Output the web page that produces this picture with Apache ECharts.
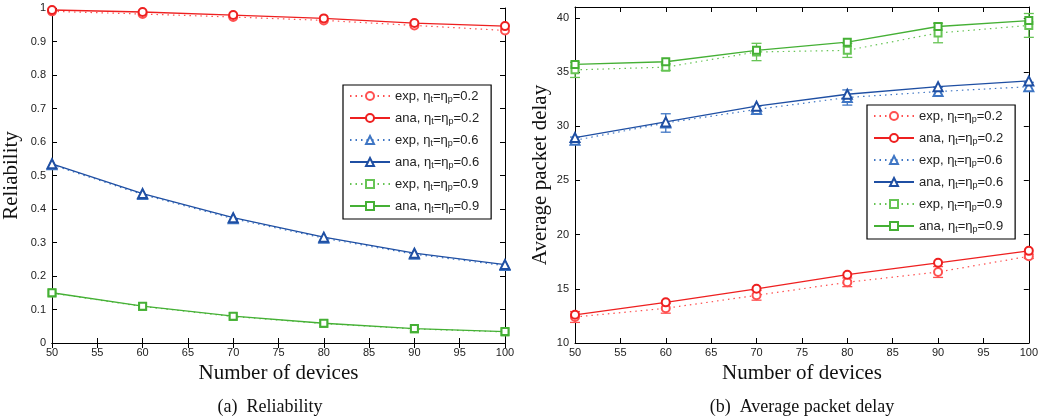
<!DOCTYPE html>
<html><head><meta charset="utf-8">
<script src="https://cdn.jsdelivr.net/npm/echarts@6/dist/echarts.min.js"></script>
<style>html,body{margin:0;padding:0;background:#fff}#c{width:1041px;height:419px}</style>
</head><body><div id="c"></div>
<script>
const devices = [50, 60, 70, 80, 90, 100];
const xTicks = [50, 55, 60, 65, 70, 75, 80, 85, 90, 95, 100];
const etaValues = ['0.2', '0.6', '0.9'];

const relAna02 = [0.994, 0.988, 0.979, 0.969, 0.955, 0.946];
const relExp02 = [0.990, 0.982, 0.973, 0.963, 0.948, 0.933];
const relAna06 = [0.535, 0.446, 0.374, 0.316, 0.268, 0.234];
const relExp06 = [0.532, 0.443, 0.371, 0.313, 0.265, 0.231];
const relAna09 = [0.150, 0.110, 0.080, 0.059, 0.043, 0.034];
const relExp09 = [0.149, 0.109, 0.079, 0.058, 0.042, 0.033];

const delayAna02 = [12.6, 13.75, 15.0, 16.3, 17.4, 18.5];
const delayExp02 = [12.4, 13.2, 14.4, 15.6, 16.55, 18.0];
const delayErr02 = [0.5, 0.45, 0.45, 0.4, 0.5, 0.2];
const delayAna06 = [28.95, 30.4, 31.85, 32.95, 33.65, 34.18];
const delayExp06 = [28.7, 30.3, 31.55, 32.65, 33.2, 33.65];
const delayErr06 = [0.3, 0.85, 0.3, 0.7, 0.4, 0.4];
const delayAna09 = [35.7, 35.95, 37.0, 37.75, 39.2, 39.75];
const delayExp09 = [35.2, 35.45, 36.85, 37.0, 38.6, 39.3];
const delayErr09 = [0.7, 0.3, 0.8, 0.65, 0.9, 1.1];

const style = {
  '0.2': {ana: '#ee2020', exp: '#ff5050', symbol: 'emptyCircle', size: 8},
  '0.6': {ana: '#1f4fa3', exp: '#3f76c4', symbol: 'emptyTriangle', size: 9},
  '0.9': {ana: '#45b035', exp: '#66c454', symbol: 'emptyRect', size: 7}
};

const pair = (ys) => devices.map((x, i) => [x, ys[i]]);
const sans = 'Liberation Sans, Arial, sans-serif';
const serif = 'Liberation Serif, Times New Roman, serif';

function lineSeries(kind, eta, ys, xi, yi) {
  const s = style[eta];
  return {
    name: kind + '|' + eta, type: 'line', xAxisIndex: xi, yAxisIndex: yi,
    data: pair(ys), symbol: s.symbol, symbolSize: s.size,
    lineStyle: {color: kind === 'ana' ? s.ana : s.exp, width: kind === 'ana' ? 1.3 : 1.2, type: kind === 'ana' ? 'solid' : [1.5, 4]},
    itemStyle: {color: kind === 'ana' ? s.ana : s.exp, borderWidth: 1.2},
    z: kind === 'ana' ? 3 : 2, animation: false
  };
}
function errSeries(eta, ys, errs, xi, yi) {
  const s = style[eta];
  return {
    type: 'custom', xAxisIndex: xi, yAxisIndex: yi, animation: false, silent: true, z: 2,
    data: devices.map((x, i) => [x, ys[i] - errs[i], ys[i] + errs[i]]),
    renderItem: function (params, api) {
      const lo = api.coord([api.value(0), api.value(1)]);
      const hi = api.coord([api.value(0), api.value(2)]);
      const w = 5;
      const st = {stroke: s.exp, lineWidth: 1.3};
      return {type: 'group', children: [
        {type: 'line', shape: {x1: lo[0], y1: lo[1], x2: hi[0], y2: hi[1]}, style: st},
        {type: 'line', shape: {x1: lo[0] - w, y1: lo[1], x2: lo[0] + w, y2: lo[1]}, style: st},
        {type: 'line', shape: {x1: hi[0] - w, y1: hi[1], x2: hi[0] + w, y2: hi[1]}, style: st}
      ]};
    }
  };
}

const axisLine = {show: true, lineStyle: {color: '#000', width: 1}};
const tickIn = {show: true, inside: true, length: 5, lineStyle: {color: '#000'}};
const lbl = {fontFamily: sans, fontSize: 11, color: '#222'};

function xAx(gi, bottom) {
  return {type: 'value', gridIndex: gi, min: 50, max: 100, interval: 5,
    position: bottom ? 'bottom' : 'top', axisLine, axisTick: tickIn, splitLine: {show: false},
    axisLabel: bottom ? Object.assign({margin: 4}, lbl) : {show: false},
    name: bottom ? 'Number of devices' : '', nameLocation: 'middle', nameGap: 20,
    nameTextStyle: {fontFamily: serif, fontSize: 21, color: '#111'}};
}
function yAx(gi, left, min, max, interval, fmt, name, gap) {
  return {type: 'value', gridIndex: gi, min, max, interval,
    position: left ? 'left' : 'right', axisLine, axisTick: tickIn, splitLine: {show: false},
    axisLabel: left ? Object.assign({margin: 6, formatter: fmt}, lbl) : {show: false},
    name: left ? name : '', nameLocation: 'middle', nameGap: gap || 0,
    nameTextStyle: {fontFamily: serif, fontSize: 21, color: '#111'}};
}

const legendNames = [];
etaValues.forEach(e => { legendNames.push('exp|' + e); legendNames.push('ana|' + e); });
function legend(left, top) {
  return {
    left, top, orient: 'vertical', data: legendNames, z: 20,
    backgroundColor: '#fff', borderColor: '#000', borderWidth: 1.2,
    padding: [3, 12, 5, 6], itemWidth: 40, itemHeight: 10, itemGap: 6,
    selectedMode: false,
    itemStyle: {borderWidth: 1.2},
    formatter: (n) => { const [k, v] = n.split('|'); return k + ', η{s|t}=η{s|p}=' + v; },
    textStyle: {fontFamily: sans, fontSize: 13, color: '#222', lineHeight: 16,
      rich: {s: {fontFamily: sans, fontSize: 9, color: '#222', lineHeight: 8, verticalAlign: 'bottom'}}}
  };
}

const option = {
  backgroundColor: '#fff',
  animation: false,
  grid: [
    {left: 51, top: 8, width: 454, height: 335},
    {left: 575, top: 7, width: 455, height: 336}
  ],
  xAxis: [xAx(0, true), xAx(0, false), xAx(1, true), xAx(1, false)],
  yAxis: [
    yAx(0, true, 0, 1, 0.1, v => (v === 0 || v === 1) ? String(v) : v.toFixed(1), 'Reliability', 30),
    yAx(0, false, 0, 1, 0.1),
    yAx(1, true, 10, 41, 5, v => (v % 5 === 0 ? String(v) : ''), 'Average packet delay', 24),
    yAx(1, false, 10, 41, 5)
  ],
  legend: [legend(343, 85), legend(867, 105)],
  title: [
    {text: '(a)  Reliability', left: 265, top: 393, textAlign: 'center',
      textStyle: {fontFamily: serif, fontSize: 18, fontWeight: 'normal', color: '#111'}},
    {text: '(b)  Average packet delay', left: 797, top: 393, textAlign: 'center',
      textStyle: {fontFamily: serif, fontSize: 18, fontWeight: 'normal', color: '#111'}}
  ],
  series: [
    lineSeries('exp', '0.2', relExp02, 0, 0), lineSeries('ana', '0.2', relAna02, 0, 0),
    lineSeries('exp', '0.6', relExp06, 0, 0), lineSeries('ana', '0.6', relAna06, 0, 0),
    lineSeries('exp', '0.9', relExp09, 0, 0), lineSeries('ana', '0.9', relAna09, 0, 0),
    lineSeries('exp', '0.2', delayExp02, 2, 2), lineSeries('ana', '0.2', delayAna02, 2, 2),
    lineSeries('exp', '0.6', delayExp06, 2, 2), lineSeries('ana', '0.6', delayAna06, 2, 2),
    lineSeries('exp', '0.9', delayExp09, 2, 2), lineSeries('ana', '0.9', delayAna09, 2, 2),
    errSeries('0.2', delayExp02, delayErr02, 2, 2),
    errSeries('0.6', delayExp06, delayErr06, 2, 2),
    errSeries('0.9', delayExp09, delayErr09, 2, 2)
  ]
};
const chart = echarts.init(document.getElementById('c'), null, {renderer: 'canvas'});
chart.setOption(option);
</script></body></html>
